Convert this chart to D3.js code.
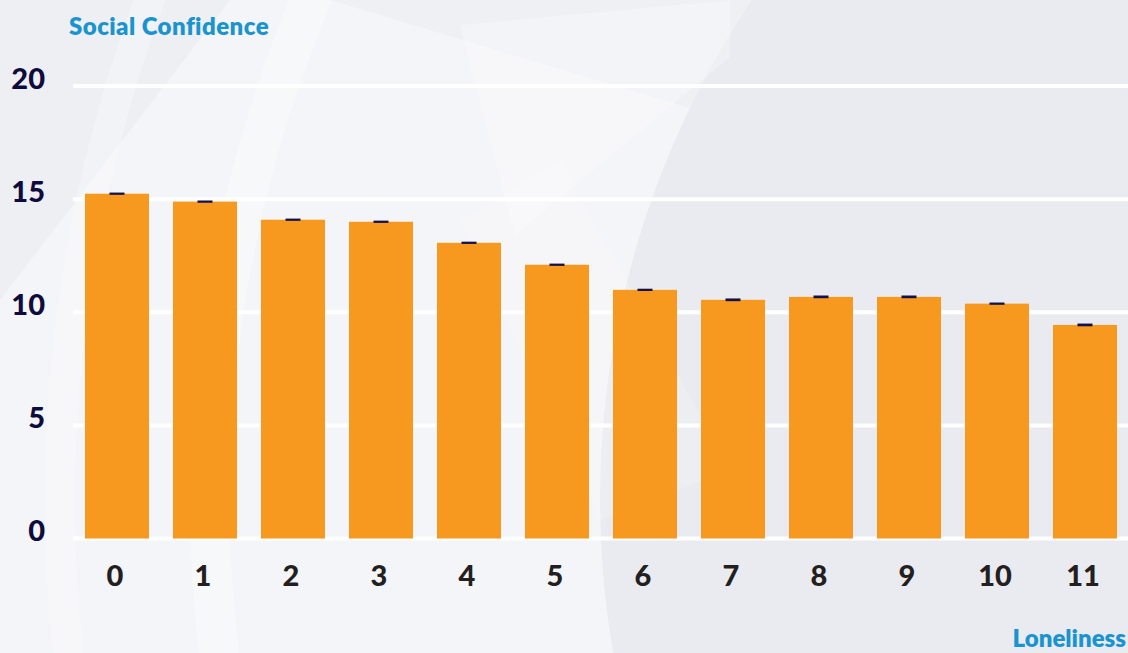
<!DOCTYPE html>
<html>
<head>
<meta charset="utf-8">
<script src="https://cdn.jsdelivr.net/npm/d3@7"></script>
<style>
  html, body { margin: 0; padding: 0; background: #f3f4f7; }
  svg { display: block; }
  text { font-family: Lato, "Noto Sans", sans-serif; }
</style>
</head>
<body>
<div id="chart-container"></div>
<script>
// Chart data
const categories = ["0", "1", "2", "3", "4", "5", "6", "7", "8", "9", "10", "11"];
const values = [15.24, 14.89, 14.09, 14.0, 13.07, 12.1, 10.99, 10.55, 10.68, 10.68, 10.38, 9.44];
const errors = [0.05, 0.05, 0.05, 0.05, 0.05, 0.05, 0.05, 0.06, 0.06, 0.06, 0.05, 0.06];
const yTicks = [0, 5, 10, 15, 20];

const width = 1128;
const height = 653;

const svg = d3.select("#chart-container")
    .append("svg")
    .attr("width", width)
    .attr("height", height);

// Decorative background: light base, darker disc on the right, faint bands
const bg = svg.append("g");
bg.append("rect").attr("width", width).attr("height", height).attr("fill", "#f4f5f8");
bg.append("path")
    .attr("d", "M0,0 L230,0 L0,300 Z")
    .attr("fill", "#eeeff3");
bg.append("path")
    .attr("d", "M330,0 L1128,0 L1128,240 Z")
    .attr("fill", "#eff0f4");
bg.append("circle")
    .attr("cx", 1500).attr("cy", 500).attr("r", 900)
    .attr("fill", "#eaebf0");
bg.append("circle")
    .attr("cx", 1500).attr("cy", 500).attr("r", 1290)
    .attr("fill", "none")
    .attr("stroke", "#ffffff").attr("stroke-opacity", 0.3).attr("stroke-width", 40);
bg.append("circle")
    .attr("cx", 1500).attr("cy", 500).attr("r", 1440)
    .attr("fill", "none")
    .attr("stroke", "#ffffff").attr("stroke-opacity", 0.25).attr("stroke-width", 30);
bg.append("path")
    .attr("d", "M460,25 L730,0 L730,57 L515,235 Z")
    .attr("fill", "#ffffff").attr("fill-opacity", 0.25);
bg.append("path")
    .attr("d", "M460,220 L560,160 L730,470 L600,520 Z")
    .attr("fill", "#ffffff").attr("fill-opacity", 0.18);

// Scales
const x = d3.scaleBand()
    .domain(categories)
    .range([73, 1129])
    .paddingInner(24 / 88)
    .paddingOuter(0.1364);

const y = d3.scaleLinear()
    .domain([0, 20])
    .range([538.5, 86]);

// Gridlines
svg.append("g")
    .selectAll("line")
    .data(yTicks)
    .enter().append("line")
    .attr("x1", 73)
    .attr("x2", width)
    .attr("y1", d => y(d))
    .attr("y2", d => y(d))
    .attr("stroke", "#ffffff")
    .attr("stroke-width", 4);

// Y axis labels
const yAxis = svg.append("g")
    .attr("transform", "translate(45,-8)")
    .call(d3.axisLeft(y).tickValues(yTicks).tickSize(0).tickPadding(0));
yAxis.select(".domain").remove();
yAxis.selectAll("text")
    .attr("fill", "#0e0b3d")
    .attr("font-size", 29)
    .attr("font-weight", 900)
    .attr("dy", "0.36em");

// Bars
svg.append("g")
    .selectAll(".bar")
    .data(values)
    .enter().append("rect")
    .attr("class", "bar")
    .attr("x", (d, i) => x(categories[i]))
    .attr("y", d => y(d))
    .attr("width", x.bandwidth())
    .attr("height", d => y(0) - y(d))
    .attr("fill", "#f7991f");

// Error bars
svg.append("g")
    .selectAll("rect")
    .data(values)
    .enter().append("rect")
    .attr("x", (d, i) => x(categories[i]) + x.bandwidth() / 2 - 7.5)
    .attr("y", (d, i) => y(d + errors[i]))
    .attr("width", 15)
    .attr("height", (d, i) => y(d - errors[i]) - y(d + errors[i]))
    .attr("fill", "#14114a");

// X axis labels
const xAxis = svg.append("g")
    .attr("transform", "translate(-2,576)")
    .call(d3.axisBottom(x).tickSize(0).tickPadding(0));
xAxis.select(".domain").remove();
xAxis.selectAll("text")
    .attr("fill", "#231f20")
    .attr("font-size", 29)
    .attr("font-weight", 900)
    .attr("dy", "0.36em");

// Axis titles
svg.append("text")
    .attr("x", 69)
    .attr("y", 35)
    .attr("fill", "#1a94cf")
    .attr("font-size", 24)
    .attr("font-weight", 800)
    .attr("letter-spacing", 0.45)
    .text("Social Confidence");

svg.append("text")
    .attr("x", 1126)
    .attr("y", 647)
    .attr("text-anchor", "end")
    .attr("fill", "#1a94cf")
    .attr("font-size", 24)
    .attr("font-weight", 800)
    .text("Loneliness");
</script>
</body>
</html>
